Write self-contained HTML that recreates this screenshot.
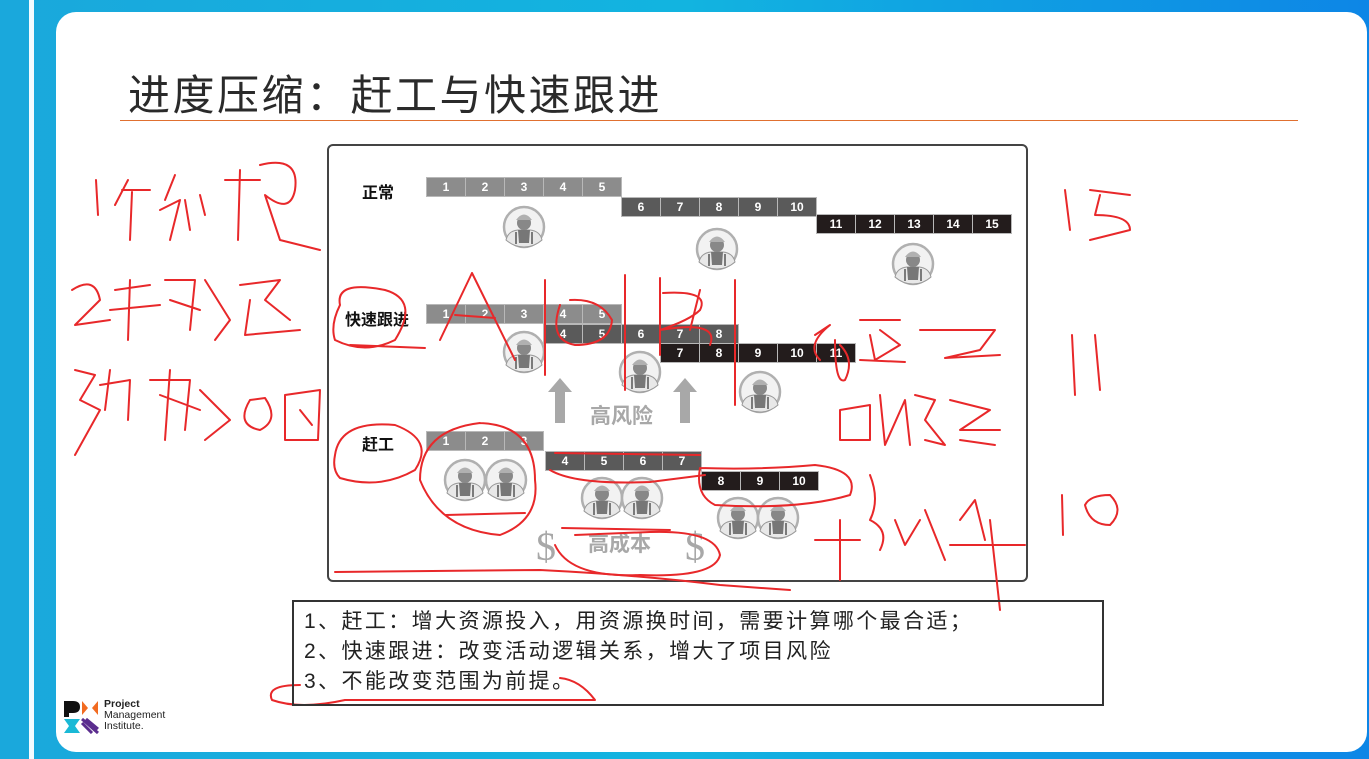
<!DOCTYPE html>
<html><head><meta charset="utf-8"><style>
*{margin:0;padding:0;box-sizing:border-box}
body{width:1369px;height:759px;overflow:hidden;position:relative;background:linear-gradient(90deg,#1aa8dc,#12b4e0 50%,#0d86e6);font-family:"Liberation Sans","Noto Sans CJK SC",sans-serif}
.stripe{position:absolute;left:29px;top:0;width:5px;height:759px;background:#f4fbff}
.panel{position:absolute;left:56px;top:12px;width:1311px;height:740px;background:#fff;border-radius:20px}
.abs{position:absolute}
.title{left:128px;top:62px;font-size:42px;color:#2a2a2a;letter-spacing:2.5px;white-space:nowrap}
.rule{left:120px;top:120px;width:1178px;height:1px;background:#e07030}
.dbox{left:327px;top:144px;width:701px;height:438px;border:2px solid #444;border-radius:6px}
.row{position:absolute;display:flex;height:20px;padding:1px;background:#b8b8b8;gap:1px}
.row div{width:38px;height:18px;color:#fff;font-size:12px;font-weight:bold;text-align:center;line-height:18px}
.g1 div{background:#8c8c8c}.g2 div{background:#5a5a5a}.g3 div{background:#231c1c}
.lbl{font-size:16px;font-weight:bold;color:#111}
.tbox{left:292px;top:600px;width:812px;height:106px;border:2px solid #333;font-size:21px;letter-spacing:2.4px;color:#222;line-height:30px;padding:5px 0 0 10px;white-space:nowrap}
</style></head><body>
<div class="stripe"></div>
<div class="panel"></div>
<div class="abs title">进度压缩：赶工与快速跟进</div>
<div class="abs rule"></div>
<div class="abs dbox"></div>
<div class="abs lbl" style="left:362px;top:179px">正常</div>
<div class="abs lbl" style="left:345px;top:306px">快速跟进</div>
<div class="abs lbl" style="left:362px;top:431px">赶工</div>

<div class="row g1" style="left:426px;top:177px"><div>1</div><div>2</div><div>3</div><div>4</div><div>5</div></div>
<div class="row g2" style="left:621px;top:197px"><div>6</div><div>7</div><div>8</div><div>9</div><div>10</div></div>
<div class="row g3" style="left:816px;top:214px"><div>11</div><div>12</div><div>13</div><div>14</div><div>15</div></div>

<div class="row g1" style="left:426px;top:304px"><div>1</div><div>2</div><div>3</div><div>4</div><div>5</div></div>
<div class="row g2" style="left:543px;top:324px"><div>4</div><div>5</div><div>6</div><div>7</div><div>8</div></div>
<div class="row g3" style="left:660px;top:343px"><div>7</div><div>8</div><div>9</div><div>10</div><div>11</div></div>

<div class="row g1" style="left:426px;top:431px"><div>1</div><div>2</div><div>3</div></div>
<div class="row g2" style="left:545px;top:451px"><div>4</div><div>5</div><div>6</div><div>7</div></div>
<div class="row g3" style="left:701px;top:471px"><div>8</div><div>9</div><div>10</div></div>

<svg class="abs" style="left:0;top:0" width="1369" height="759">
<defs><symbol id="w" viewBox="-22 -22 44 44">
<circle r="20" fill="#f2f2f2" stroke="#b0b0b0" stroke-width="2.5"/>
<path d="M-18 13 Q-16 4 -6 3 L6 3 Q16 4 18 13 Q10 20 0 20 Q-10 20 -18 13Z" fill="#e8e8e8" stroke="#999"/>
<path d="M-6 3 L-5 16 L5 16 L6 3Z" fill="#777"/>
<path d="M-8 5 L-8 17 M8 5 L8 17" stroke="#555" stroke-width="1.5"/>
<circle cy="-4" r="7" fill="#888"/>
<path d="M-8 -7 Q0 -18 8 -7Z" fill="#b0b0b0"/>
</symbol></defs>
<use href="#w" x="502" y="205" width="44" height="44"/>
<use href="#w" x="695" y="227" width="44" height="44"/>
<use href="#w" x="891" y="242" width="44" height="44"/>
<use href="#w" x="502" y="330" width="44" height="44"/>
<use href="#w" x="618" y="350" width="44" height="44"/>
<use href="#w" x="738" y="370" width="44" height="44"/>
<use href="#w" x="443" y="458" width="44" height="44"/>
<use href="#w" x="484" y="458" width="44" height="44"/>
<use href="#w" x="580" y="476" width="44" height="44"/>
<use href="#w" x="620" y="476" width="44" height="44"/>
<use href="#w" x="716" y="496" width="44" height="44"/>
<use href="#w" x="756" y="496" width="44" height="44"/>
<path d="M560 378 L572 392 L565 392 L565 423 L555 423 L555 392 L548 392Z" fill="#a8a8a8"/>
<path d="M685 378 L697 392 L690 392 L690 423 L680 423 L680 392 L673 392Z" fill="#a8a8a8"/>
<text x="590" y="423" font-size="21" font-weight="bold" fill="#a8a8a8" font-family="Liberation Sans,Noto Sans CJK SC,sans-serif">高风险</text>
<text x="588" y="551" font-size="21" font-weight="bold" fill="#a8a8a8" font-family="Liberation Sans,Noto Sans CJK SC,sans-serif">高成本</text>
<text x="536" y="560" font-size="40" fill="#a8a8a8" font-family="Liberation Serif,serif">$</text>
<text x="685" y="560" font-size="40" fill="#a8a8a8" font-family="Liberation Serif,serif">$</text>
<g fill="none" stroke="#e8282a" stroke-width="2" stroke-linecap="round" stroke-linejoin="round">
<path d="M96 180 L98 215"/><path d="M128 180 L115 205 M122 190 L150 190 M132 192 L130 240"/>
<path d="M175 175 L165 200 M160 210 L180 200 L170 240 M185 200 L190 230 M200 195 L205 215"/>
<path d="M225 180 L260 180 M240 170 L238 240 M260 165 Q300 155 295 190 Q290 215 265 195 L280 240 L320 250"/>
<path d="M72 290 Q95 275 100 300 L75 325 L110 320"/><path d="M115 290 L150 285 M130 280 L128 340 M110 310 L160 305"/>
<path d="M165 280 L195 280 L190 330 M170 300 L200 310 M205 280 L230 320 L215 340"/><path d="M240 285 L280 280 L265 300 L290 320 M250 300 L245 335 L300 330"/>
<path d="M75 370 L95 375 L80 400 L100 410 L75 455"/><path d="M110 370 L105 410 M100 385 L130 380 L128 420"/>
<path d="M150 380 L190 380 L185 430 M160 395 L200 410 M170 370 L165 440 M200 390 L230 420 L205 440"/>
<path d="M250 400 Q235 425 260 430 Q280 420 265 398 Z"/><path d="M285 395 L320 390 L318 440 L285 440 Z M300 410 L312 425"/>
<path d="M472 273 L440 340 M472 273 L515 360 M455 315 L495 318"/>
<path d="M545 280 L545 375 M625 275 L625 390 M735 280 L735 405 M660 278 L660 355 M700 290 L690 330"/>
<path d="M663 293 Q710 290 700 310 Q690 320 660 330 Q720 320 710 345"/>
<path d="M560 305 Q548 340 575 345 Q610 345 612 320 Q600 298 570 300"/>
<path d="M340 305 Q335 280 385 290 Q420 300 395 340 Q365 355 335 340 Q330 325 340 305 M350 345 L425 348"/>
<path d="M815 335 L830 325 Q805 345 820 360 M835 340 Q835 385 845 380 Q855 360 840 345"/>
<path d="M860 320 L900 320 M870 335 L875 360 L900 345 L880 330 M860 360 L905 362 M920 330 L995 330 L980 350 L945 358 L1000 355"/>
<path d="M840 410 L870 405 L870 440 L840 440 Z M880 395 L885 445 L905 400 L910 445 M915 395 L935 400 L925 420 L945 445 L925 440"/>
<path d="M950 400 L990 410 L960 430 L1000 430 M960 440 L995 445"/>
<path d="M1065 190 L1070 230 M1090 190 L1130 195 M1100 195 L1095 215 Q1130 215 1130 230 L1090 240"/>
<path d="M1072 335 L1075 395 M1095 335 L1100 390"/>
<path d="M1062 495 L1063 535 M1085 505 Q1090 525 1110 525 Q1125 510 1110 495 Q1090 495 1085 505"/>
<path d="M335 455 Q340 420 395 425 Q435 440 415 470 Q380 490 340 478 Q332 470 335 455"/>
<path d="M480 423 Q420 430 420 480 Q440 530 500 535 Q540 520 535 480 Q535 425 480 423 M446 515 L525 513"/>
<path d="M555 453 L700 455 M550 470 Q575 485 650 482 L705 475"/>
<path d="M700 468 Q760 470 815 465 Q860 470 850 495 Q800 510 715 505 Q695 495 700 468"/>
<path d="M562 528 L670 530 M555 545 Q570 578 640 575 Q715 578 720 555 Q715 530 650 532 L575 535"/>
<path d="M335 572 L540 570 Q640 575 720 585 L790 590"/>
<path d="M815 540 L860 540 M840 520 L840 580 M870 475 Q880 500 870 520 Q890 530 880 550 M895 520 L905 545 L920 520 M925 510 L945 560 M960 520 L975 500 L985 540 M950 545 L1025 545 M990 520 L1000 610"/>
<path d="M300 685 Q265 685 272 700 Q300 710 345 700 L595 700 Q580 680 560 678"/>
</g>
</svg>

<div class="abs tbox">1、赶工：增大资源投入，用资源换时间，需要计算哪个最合适；<br>2、快速跟进：改变活动逻辑关系，增大了项目风险<br>3、不能改变范围为前提。</div>

<svg class="abs" style="left:64px;top:700px" width="36" height="34">
<path d="M0 1 H9 Q16 1 16 7 Q16 13 9 13 H5 V17 H0Z" fill="#111"/>
<path d="M18 1 L24 8 L18 15Z M34 1 L28 8 L34 15Z" fill="#f26b21"/>
<path d="M0 19 H16 L11 26 L16 33 H0 L5 26Z" fill="#1ab9d6"/>
<path d="M18 19 L34 33 M22 19 L34 29 M18 23 L28 33" stroke="#5b2d8e" stroke-width="3"/>
</svg>
<div class="abs" style="left:104px;top:699px;font-size:10.5px;line-height:11px;color:#222"><b>Project</b><br>Management<br>Institute.</div>
</body></html>
